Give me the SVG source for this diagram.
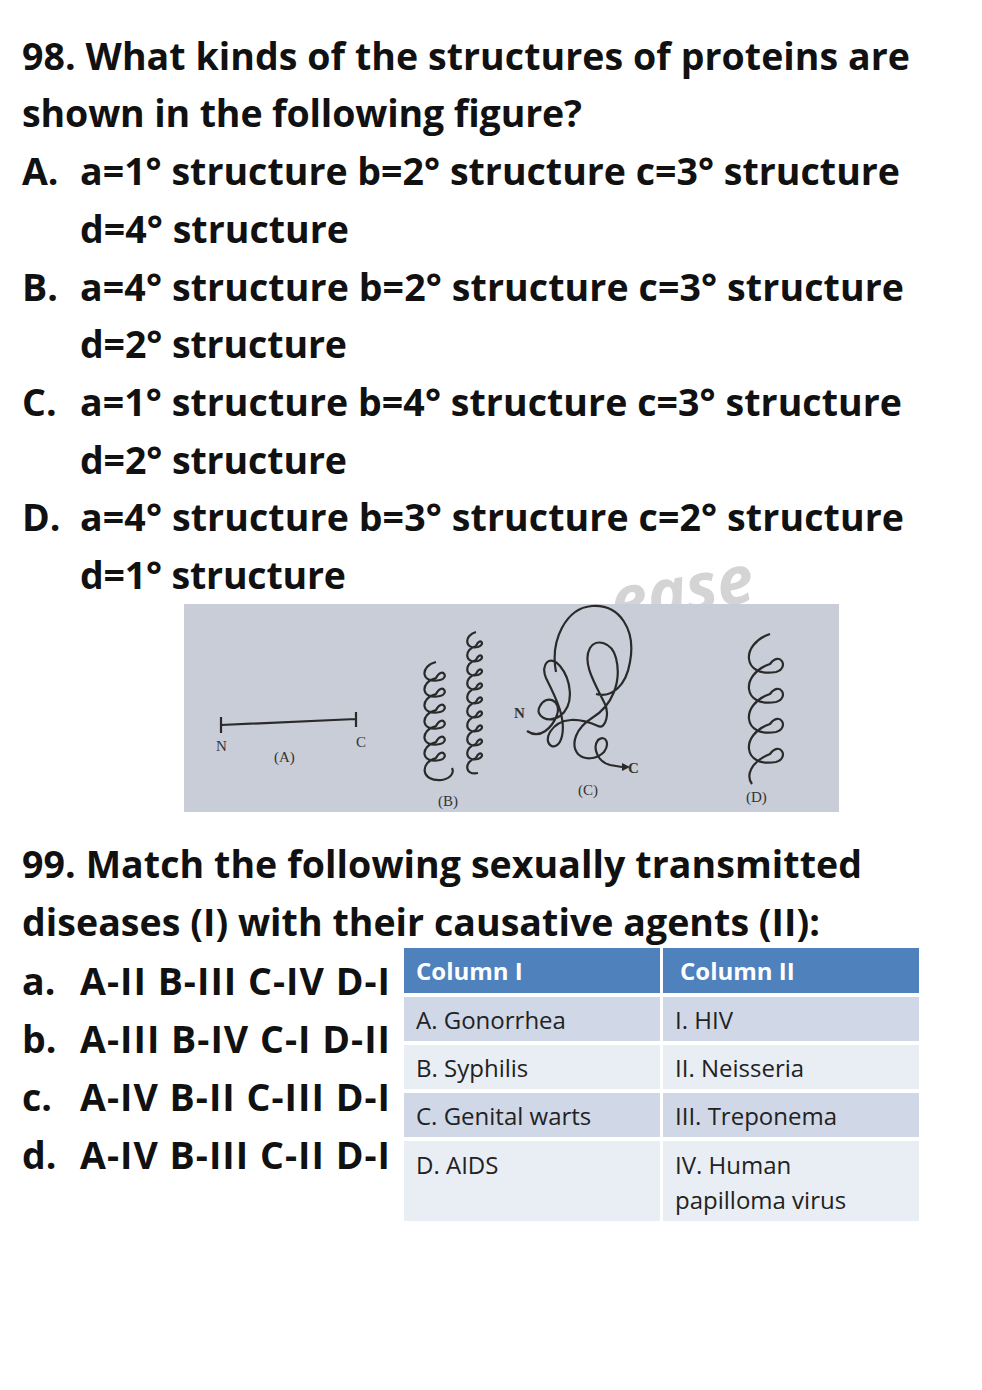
<svg xmlns="http://www.w3.org/2000/svg" width="982" height="1390" viewBox="0 0 982 1390">
<style>
.q{font-family:"Open Sans",sans-serif;font-weight:bold;font-size:37.5px;fill:#111}
.t{font-family:"Open Sans",sans-serif;font-size:24px;fill:#222}
.h{font-family:"Open Sans",sans-serif;font-weight:bold;font-size:24px;fill:#fff}
.f{font-family:"Liberation Serif",serif;font-size:15px;fill:#333}
.ln{fill:none;stroke:#2a2a2a;stroke-width:2.2}
</style>
<rect width="982" height="1390" fill="#fff"/>
<g id="q98">
<text class="q" x="22" y="70" textLength="888">98. What kinds of the structures of proteins are</text>
<text class="q" x="22" y="127" textLength="560">shown in the following figure?</text>
<text class="q" x="22" y="185">A.</text><text class="q" x="80" y="185" textLength="820">a=1° structure b=2° structure c=3° structure</text>
<text class="q" x="80" y="243" textLength="269">d=4° structure</text>
<text class="q" x="22" y="301">B.</text><text class="q" x="80" y="301" textLength="824">a=4° structure b=2° structure c=3° structure</text>
<text class="q" x="80" y="358" textLength="267">d=2° structure</text>
<text class="q" x="22" y="416">C.</text><text class="q" x="80" y="416" textLength="822">a=1° structure b=4° structure c=3° structure</text>
<text class="q" x="80" y="474" textLength="267">d=2° structure</text>
<text class="q" x="22" y="531">D.</text><text class="q" x="80" y="531" textLength="824">a=4° structure b=3° structure c=2° structure</text>
<text class="q" x="80" y="589" textLength="266">d=1° structure</text>
</g>
<text x="610" y="610" font-family="'Open Sans',sans-serif" font-style="italic" font-weight="bold" font-size="66" fill="#d4d4d4" transform="rotate(-10 700 590)">ease</text>
<g id="figure">
<rect x="184" y="604" width="655" height="208" fill="#c9cdd7"/>
<path class="ln" d="M221 725 L356 719 M221 717 V733 M356 712 V727"/>
<text class="f" x="216" y="751">N</text><text class="f" x="356" y="747">C</text><text class="f" x="274" y="762">(A)</text>
<path class="ln" d="M436 662 c-16 4 -16 22 4 18 c10 -2 2 -14 -4 -2 c-16 4 -16 22 4 18 c10 -2 2 -14 -4 -2 c-16 4 -16 22 4 18 c10 -2 2 -14 -4 -2 c-16 4 -16 22 4 18 c10 -2 2 -14 -4 -2 c-16 4 -16 22 4 18 c10 -2 2 -14 -4 -2 c-16 4 -16 22 4 18 c10 -2 2 -14 -4 -2 c-16 4 -16 24 6 22 c10 -2 12 -8 10 -12"/>
<path class="ln" d="M476 632 c-12 3 -12 18 2 15 c8 -2 2 -11 -2 -1 c-12 3 -12 18 2 15 c8 -2 2 -11 -2 -1 c-12 3 -12 18 2 15 c8 -2 2 -11 -2 -1 c-12 3 -12 18 2 15 c8 -2 2 -11 -2 -1 c-12 3 -12 18 2 15 c8 -2 2 -11 -2 -1 c-12 3 -12 18 2 15 c8 -2 2 -11 -2 -1 c-12 3 -12 18 2 15 c8 -2 2 -11 -2 -1 c-12 3 -12 18 2 15 c8 -2 2 -11 -2 -1 c-12 3 -12 18 2 15 c8 -2 2 -11 -2 -1 c-12 3 -12 18 2 15"/>
<text class="f" x="438" y="806">(B)</text>
<path class="ln" d="M527 731 C540 740 552 728 557 715 C562 700 546 694 540 706 C534 716 548 724 560 716 C576 704 570 678 560 666 C550 654 540 664 546 678 C556 698 566 718 562 736 C558 754 542 746 550 732 C560 716 580 718 598 726 C606 730 610 712 604 702 C594 682 582 662 590 648 C596 638 612 642 616 658 C622 682 612 706 592 718 C576 728 570 744 578 754 C584 760 596 760 604 752 C610 744 606 734 598 740 C592 748 598 762 610 765 L622 767 M556 672 C550 640 566 608 592 606 C620 604 636 630 630 662 C626 686 612 698 596 694"/>
<path d="M630 767 l-8 -4 l0 8 z" fill="#2a2a2a"/>
<text class="f" x="514" y="718" font-weight="bold">N</text><text class="f" x="628" y="773" font-weight="bold">C</text><text class="f" x="578" y="795">(C)</text>
<path class="ln" d="M770 634 c-30 10 -28 44 6 38 c14 -4 4 -22 -6 -8 c-30 10 -28 44 6 38 c14 -4 4 -22 -6 -8 c-30 10 -28 44 6 38 c14 -4 4 -22 -6 -8 c-30 10 -28 44 6 38 c14 -4 4 -22 -6 -8 c-20 8 -24 22 -18 30"/>
<text class="f" x="746" y="802">(D)</text>
</g>
<g id="q99">
<text class="q" x="22" y="878" textLength="840">99. Match the following sexually transmitted</text>
<text class="q" x="22" y="936" textLength="798">diseases (I) with their causative agents (II):</text>
<text class="q" x="22" y="995">a.</text><text class="q" x="80" y="995" textLength="310">A-II B-III C-IV D-I</text>
<text class="q" x="22" y="1053">b.</text><text class="q" x="80" y="1053" textLength="310">A-III B-IV C-I D-II</text>
<text class="q" x="22" y="1111">c.</text><text class="q" x="80" y="1111" textLength="310">A-IV B-II C-III D-I</text>
<text class="q" x="22" y="1169">d.</text><text class="q" x="80" y="1169" textLength="310">A-IV B-III C-II D-I</text>
</g>
<g id="table">
<rect x="404" y="948" width="515" height="273" fill="#fff"/>
<rect x="404" y="948" width="256" height="45" fill="#4f81bd"/><rect x="663" y="948" width="256" height="45" fill="#4f81bd"/>
<rect x="404" y="997" width="256" height="44" fill="#d0d8e8"/><rect x="663" y="997" width="256" height="44" fill="#d0d8e8"/>
<rect x="404" y="1045" width="256" height="44" fill="#e9edf4"/><rect x="663" y="1045" width="256" height="44" fill="#e9edf4"/>
<rect x="404" y="1093" width="256" height="44" fill="#d0d8e8"/><rect x="663" y="1093" width="256" height="44" fill="#d0d8e8"/>
<rect x="404" y="1141" width="256" height="80" fill="#e9edf4"/><rect x="663" y="1141" width="256" height="80" fill="#e9edf4"/>
<text class="h" x="416" y="980">Column I</text><text class="h" x="680" y="980">Column II</text>
<text class="t" x="416" y="1029">A. Gonorrhea</text><text class="t" x="675" y="1029">I. HIV</text>
<text class="t" x="416" y="1077">B. Syphilis</text><text class="t" x="675" y="1077">II. Neisseria</text>
<text class="t" x="416" y="1125">C. Genital warts</text><text class="t" x="675" y="1125">III. Treponema</text>
<text class="t" x="416" y="1174">D. AIDS</text><text class="t" x="675" y="1174">IV. Human</text>
<text class="t" x="675" y="1209">papilloma virus</text>
</g>
</svg>
